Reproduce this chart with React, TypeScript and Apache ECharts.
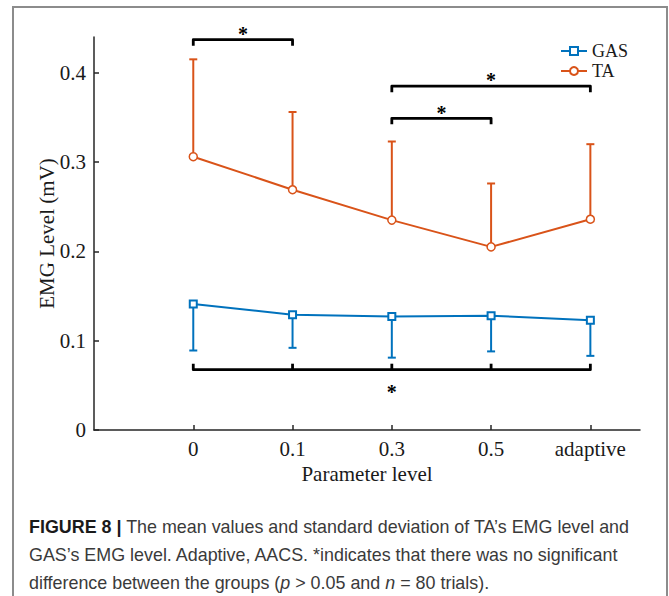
import React, { useEffect, useRef } from "react";
import * as echarts from "echarts";

const categories = ["0", "0.1", "0.3", "0.5", "adaptive"];
const categoryPositions = [0, 1, 2, 3, 4];
const gasMean = [0.141, 0.129, 0.127, 0.128, 0.123];
const gasLower = [0.089, 0.092, 0.081, 0.088, 0.083];
const taMean = [0.306, 0.269, 0.235, 0.205, 0.236];
const taUpper = [0.415, 0.356, 0.323, 0.276, 0.32];
const yTicks = [0, 0.1, 0.2, 0.3, 0.4];

// significance brackets
const bracketStart = [0, 2, 2, 0];
const bracketEnd = [1, 4, 3, 4];
const bracketLevel = [0.437, 0.385, 0.349, 0.0675];
const bracketStarLevel = [0.448, 0.396, 0.359, 0.047];
const bracketSide = [1, 1, 1, -1];
const bracketTicks = [
  [0, 1],
  [2, 4],
  [2, 3],
  [0, 1, 2, 3, 4],
];

const GAS_COLOR = "#0072BD";
const TA_COLOR = "#D95319";
const AXIS_COLOR = "#262626";
const SERIF = "'Liberation Serif', 'Times New Roman', serif";
const SANS = "'Liberation Sans', Arial, Helvetica, sans-serif";

function errorBarItem(color: string) {
  return (params: any, api: any) => {
    const x = api.value(0);
    const m = api.value(1);
    const e = api.value(2);
    const p1 = api.coord([x, m]);
    const p2 = api.coord([x, e]);
    return {
      type: "group",
      children: [
        {
          type: "line",
          shape: { x1: p1[0], y1: p1[1], x2: p2[0], y2: p2[1] },
          style: { stroke: color, lineWidth: 2 },
        },
        {
          type: "line",
          shape: { x1: p2[0] - 4, y1: p2[1], x2: p2[0] + 4, y2: p2[1] },
          style: { stroke: color, lineWidth: 2 },
        },
      ],
    };
  };
}

export default function App() {
  const ref = useRef<HTMLDivElement>(null);

  useEffect(() => {
    document.body.style.margin = "0";
    const chart = echarts.init(ref.current!, null, { renderer: "svg" });

    const bracketData = bracketStart.map((s, i) => [
      s,
      bracketEnd[i],
      bracketLevel[i],
      bracketStarLevel[i],
      bracketSide[i],
    ]);

    const option: any = {
      animation: false,
      backgroundColor: "#ffffff",
      grid: { left: 94, right: 29, top: 37, bottom: 166, containLabel: false },
      legend: {
        data: ["GAS", "TA"],
        orient: "vertical",
        right: 36,
        top: 37,
        itemGap: 2,
        itemWidth: 26,
        itemHeight: 10,
        textStyle: { fontFamily: SERIF, fontSize: 18, color: "#1a1a1a" },
      },
      xAxis: {
        type: "value",
        min: -1,
        max: 4.5,
        name: "Parameter level",
        nameLocation: "middle",
        nameGap: 31,
        nameTextStyle: { fontFamily: SERIF, fontSize: 21, color: "#1a1a1a" },
        axisLine: { show: true, onZero: false, lineStyle: { color: AXIS_COLOR, width: 1.5 } },
        axisTick: {
          show: true,
          inside: true,
          length: 5,
          customValues: categoryPositions,
          lineStyle: { color: AXIS_COLOR, width: 1.5 },
        },
        axisLabel: {
          customValues: categoryPositions,
          formatter: (v: number) => categories[Math.round(v)] ?? "",
          fontFamily: SERIF,
          fontSize: 21,
          color: "#1a1a1a",
          margin: 8,
        },
        splitLine: { show: false },
      },
      yAxis: {
        type: "value",
        min: 0,
        max: 0.44,
        name: "EMG Level (mV)",
        nameLocation: "middle",
        nameGap: 37,
        nameMoveOverlap: false,
        nameTextStyle: { fontFamily: SERIF, fontSize: 21, color: "#1a1a1a" },
        axisLine: { show: true, onZero: false, lineStyle: { color: AXIS_COLOR, width: 1.5 } },
        axisTick: {
          show: true,
          inside: true,
          length: 5,
          customValues: yTicks,
          lineStyle: { color: AXIS_COLOR, width: 1.5 },
        },
        axisLabel: {
          customValues: yTicks,
          formatter: (v: number) => String(Math.round(v * 10) / 10),
          fontFamily: SERIF,
          fontSize: 21,
          color: "#1a1a1a",
          margin: 8,
        },
        splitLine: { show: false },
      },
      graphic: [
        {
          type: "rect",
          shape: { x: 13, y: 7, width: 654, height: 640 },
          style: { fill: "none", stroke: "#8c8c8c", lineWidth: 2 },
          silent: true,
        },
        {
          type: "text",
          left: 29,
          top: 513,
          style: {
            text:
              "{b|FIGURE 8 |} The mean values and standard deviation of TA\u2019s EMG level and\nGAS\u2019s EMG level. Adaptive, AACS. *indicates that there was no significant\ndifference between the groups ({i|p} > 0.05 and {i|n} = 80 trials).",
            fontFamily: SANS,
            fontSize: 17.9,
            lineHeight: 28,
            fill: "#3a3a3a",
            rich: {
              b: { fontFamily: SANS, fontSize: 17.9, fontWeight: "bold", fill: "#1a1a1a", lineHeight: 28 },
              i: { fontFamily: SANS, fontSize: 17.9, fontStyle: "italic", fill: "#3a3a3a", lineHeight: 28 },
            },
          },
        },
      ],
      series: [
        {
          name: "GAS SD",
          type: "custom",
          z: 1,
          clip: false,
          renderItem: errorBarItem(GAS_COLOR),
          encode: { x: 0, y: [1, 2] },
          data: categoryPositions.map((x, i) => [x, gasMean[i], gasLower[i]]),
        },
        {
          name: "TA SD",
          type: "custom",
          z: 1,
          clip: false,
          renderItem: errorBarItem(TA_COLOR),
          encode: { x: 0, y: [1, 2] },
          data: categoryPositions.map((x, i) => [x, taMean[i], taUpper[i]]),
        },
        {
          name: "GAS",
          type: "line",
          z: 3,
          color: GAS_COLOR,
          symbol: "rect",
          symbolSize: 7,
          showAllSymbol: true,
          lineStyle: { color: GAS_COLOR, width: 2 },
          itemStyle: { color: "#ffffff", borderColor: GAS_COLOR, borderWidth: 2 },
          data: categoryPositions.map((x, i) => [x, gasMean[i]]),
        },
        {
          name: "TA",
          type: "line",
          z: 3,
          color: TA_COLOR,
          symbol: "circle",
          symbolSize: 8,
          showAllSymbol: true,
          lineStyle: { color: TA_COLOR, width: 2 },
          itemStyle: { color: "#ffffff", borderColor: TA_COLOR, borderWidth: 1.5 },
          data: categoryPositions.map((x, i) => [x, taMean[i]]),
        },
        {
          name: "Significance",
          type: "custom",
          z: 4,
          clip: false,
          encode: { x: [0, 1], y: [2, 3] },
          data: bracketData,
          renderItem: (params: any, api: any) => {
            const idx = params.dataIndex;
            const s = api.value(0);
            const e = api.value(1);
            const lvl = api.value(2);
            const starLvl = api.value(3);
            const side = api.value(4);
            const a = api.coord([s, lvl]);
            const b = api.coord([e, lvl]);
            const leg = 6 * side;
            const children: any[] = [
              {
                type: "polyline",
                shape: {
                  points: [
                    [a[0], a[1] + leg],
                    [a[0], a[1]],
                    [b[0], b[1]],
                    [b[0], b[1] + leg],
                  ],
                },
                style: { stroke: "#000", lineWidth: 2.8, fill: "none", lineJoin: "round", lineCap: "butt" },
              },
            ];
            bracketTicks[idx].forEach((t) => {
              if (t === s || t === e) return;
              const p = api.coord([t, lvl]);
              children.push({
                type: "line",
                shape: { x1: p[0], y1: p[1], x2: p[0], y2: p[1] + leg },
                style: { stroke: "#000", lineWidth: 2.8 },
              });
            });
            const st = api.coord([(s + e) / 2, starLvl]);
            children.push({
              type: "text",
              x: st[0],
              y: st[1] + 4,
              style: {
                text: "*",
                fontFamily: SERIF,
                fontSize: 20,
                fontWeight: "bold",
                fill: "#000",
                align: "center",
                verticalAlign: "middle",
              },
            });
            return { type: "group", children };
          },
        },
      ],
    };

    chart.setOption(option);
    return () => chart.dispose();
  }, []);

  return <div ref={ref} style={{ width: 669, height: 596 }} />;
}
